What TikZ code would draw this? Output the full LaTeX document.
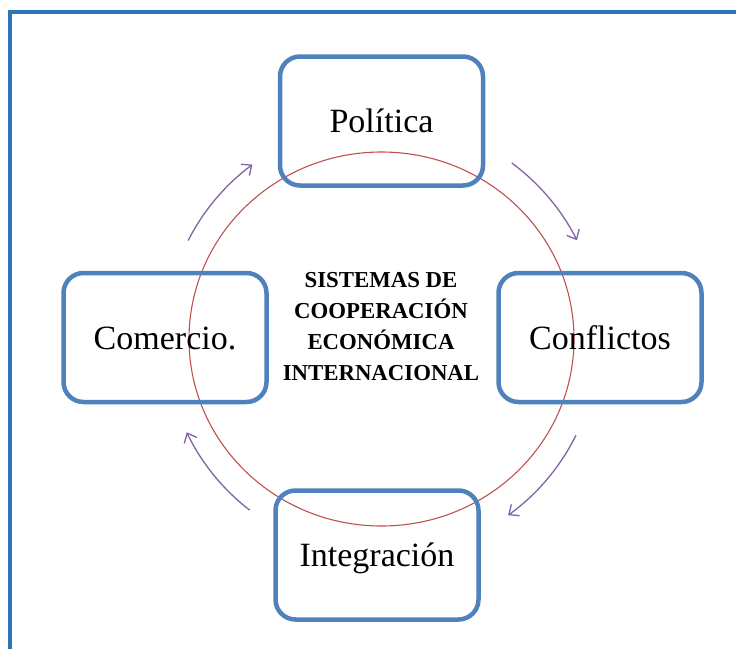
\documentclass[tikz,border=0pt]{standalone}
\usepackage{fontspec}
\setmainfont{Liberation Serif}
\usetikzlibrary{arrows.meta,calc}
\definecolor{framecol}{HTML}{2E75B6}
\definecolor{boxcol}{HTML}{4F81BD}
\definecolor{ringcol}{HTML}{C0504D}
\definecolor{arrcol}{HTML}{8064A2}
\tikzset{
  topic/.style={draw=boxcol, line width=4.5pt, rounded corners=20pt, fill=none,
    minimum width=203pt, minimum height=129pt, inner sep=0pt,
    font=\fontsize{34}{40}\selectfont, text height=23pt, text depth=0pt},
  cyclearrow/.style={draw=arrcol, line width=1.3pt, -{Straight Barb[length=8pt,width=14pt]}},
  ring/.style={draw=ringcol, line width=1.1pt},
  framebox/.style={draw=framecol, line width=4pt}
}
\begin{document}
\begin{tikzpicture}[x=1pt,y=-1pt]
\useasboundingbox (0,0) rectangle (736,648);
\clip (0,0) rectangle (736,648);
\draw[framebox] (10,700) -- (10,12) -- (760,12);
\coordinate (c) at (381.5,339);
\draw[ring] (c) ellipse [x radius=192.5, y radius=187];
\node[topic] (pol) at (381.5,121) {Política};
\node[topic] (con) at (600,337.5) {Conflictos};
\node[topic] (com) at (165,337.5) {Comercio.};
\node[topic] (int) at (377,555) {Integración};
\node[align=center, inner sep=0pt, font=\bfseries\fontsize{22.8}{31}\selectfont] (title) at (381,326.5)
  {SISTEMAS DE\\COOPERACIÓN\\ECONÓMICA\\INTERNACIONAL};
\draw[cyclearrow] ($(c)+(-153:217)$) arc (-153:-126.5:217);
\draw[cyclearrow] ($(c)+(-53.5:219)$) arc (-53.5:-26.8:219);
\draw[cyclearrow] ($(c)+(26.3:217)$) arc (26.3:54.3:217);
\draw[cyclearrow] ($(c)+(127.6:216)$) arc (127.6:154.4:216);
\end{tikzpicture}
\end{document}
